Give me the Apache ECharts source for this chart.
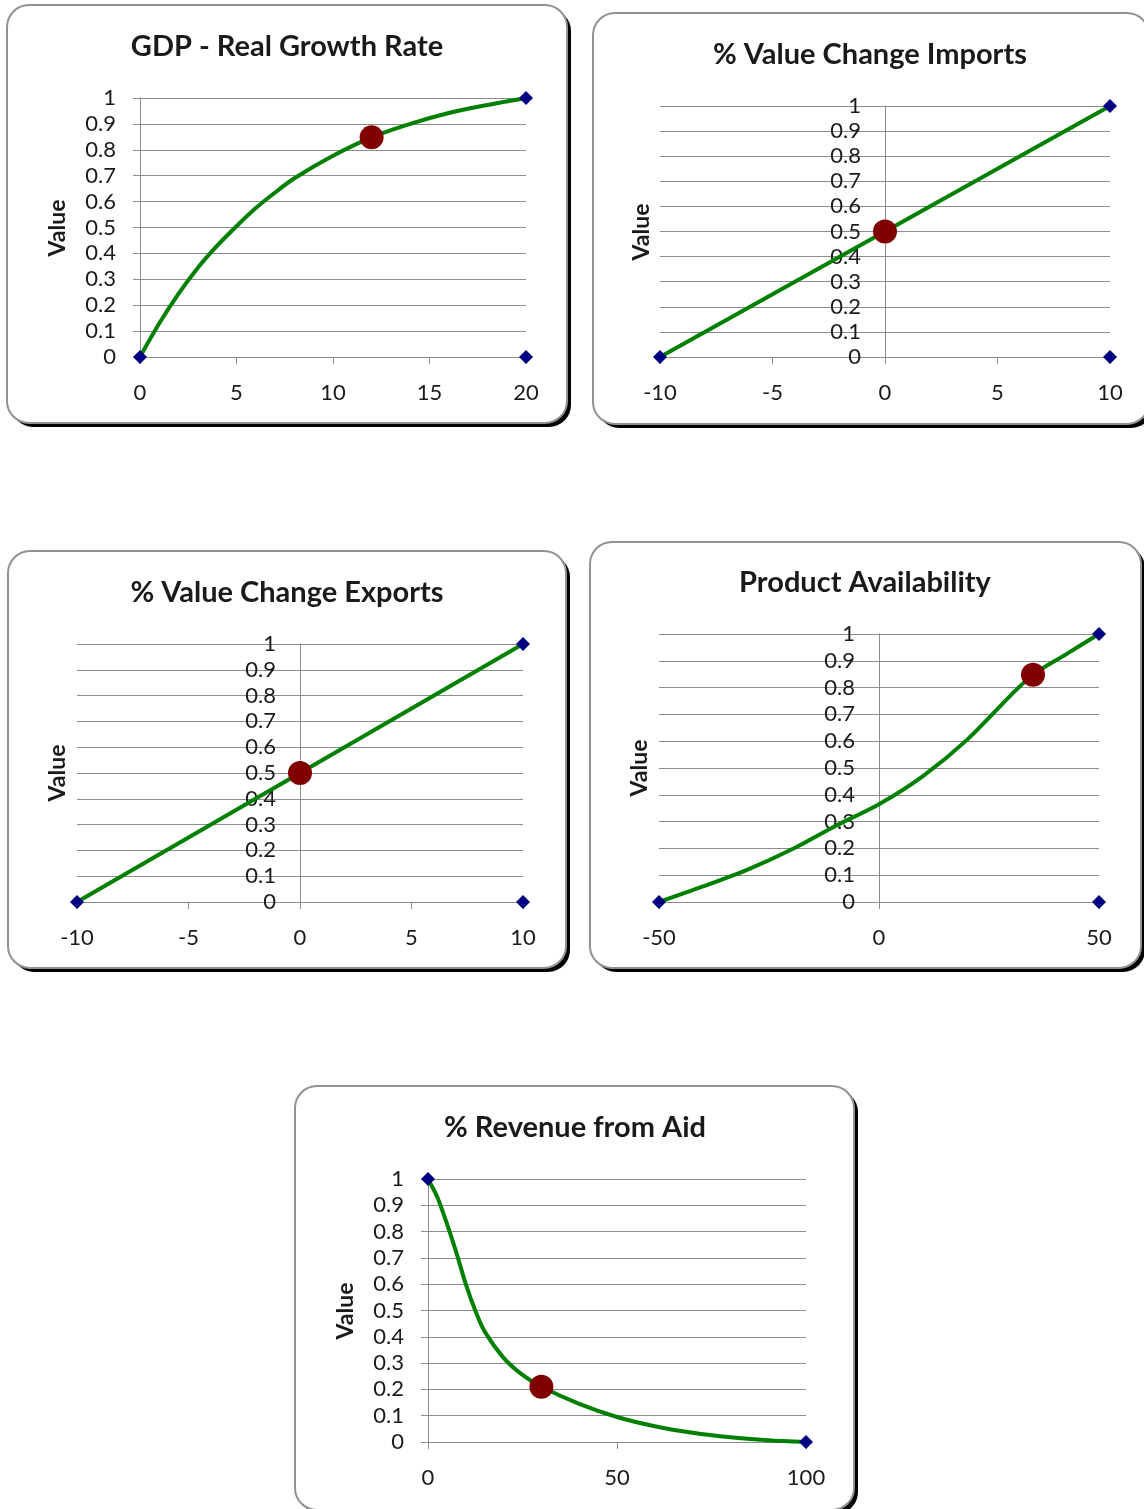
<!DOCTYPE html>
<html><head><meta charset="utf-8">
<script src="https://cdn.jsdelivr.net/npm/echarts@6/dist/echarts.min.js"></script>
<style>html,body{margin:0;padding:0;background:#fff}#c{width:1144px;height:1509px}</style>
</head><body><div id="c"></div>
<script>
// ---- data ----
const titles = ['GDP - Real Growth Rate', '% Value Change Imports', '% Value Change Exports', 'Product Availability', '% Revenue from Aid'];
const yAxisName = 'Value';
const xMins = [0, -10, -10, -50, 0];
const xMaxs = [20, 10, 10, 50, 100];
const xSteps = [5, 5, 5, 50, 50];
const yMin = 0, yMax = 1, yStep = 0.1;

const gdpCurve = [[0,0],[1,0.13],[2,0.245],[3,0.345],[4,0.43],[5,0.505],[6,0.575],[7,0.635],[8,0.69],[10,0.777],[12,0.848],[14,0.9],[16,0.942],[18,0.973],[20,1]];
const gdpPoint = [[12,0.848]];
const gdpEnds = [[0,0],[20,0],[20,1]];

const importsCurve = [[-10,0],[0,0.5],[10,1]];
const importsPoint = [[0,0.5]];
const importsEnds = [[-10,0],[10,0],[10,1]];

const exportsCurve = [[-10,0],[0,0.5],[10,1]];
const exportsPoint = [[0,0.5]];
const exportsEnds = [[-10,0],[10,0],[10,1]];

const availCurve = [[-50,0],[-40,0.058],[-30,0.12],[-20,0.195],[-10,0.283],[0,0.365],[10,0.47],[20,0.605],[30,0.772],[35,0.848],[42.5,0.924],[50,1]];
const availPoint = [[35,0.848]];
const availEnds = [[-50,0],[50,0],[50,1]];

const aidCurve = [[0,1],[2.5,0.93],[5,0.83],[7.5,0.72],[10,0.6],[12.5,0.5],[15,0.42],[20,0.32],[25,0.255],[30,0.21],[40,0.145],[50,0.095],[60,0.06],[70,0.035],[80,0.018],[90,0.007],[100,0]];
const aidPoint = [[30,0.21]];
const aidEnds = [[0,1],[100,0]];

const curves = [gdpCurve, importsCurve, exportsCurve, availCurve, aidCurve];
const points = [gdpPoint, importsPoint, exportsPoint, availPoint, aidPoint];
const ends = [gdpEnds, importsEnds, exportsEnds, availEnds, aidEnds];
const smoothness = [0.3, 0, 0, 0.3, 0.3];

// ---- layout ----
const panels = [
  {x:7, y:5, w:560, h:418},
  {x:593, y:13, w:556, h:411},
  {x:8, y:551, w:558, h:417},
  {x:590, y:542, w:551, h:426},
  {x:295, y:1086, w:559, h:424}
];
const grids = [
  {left:140, top:98, width:386, height:259},
  {left:660, top:106, width:450, height:251},
  {left:77, top:644, width:446, height:258},
  {left:659, top:634, width:440, height:268},
  {left:428, top:1179, width:378, height:263}
];
const titlePos = [[287,47],[870,55],[287,593],[865,583],[575,1128]];
const namePos = [[58,228],[642,232],[58,773],[640,768],[346,1311]];

const FONT = 'Lato, "Open Sans", sans-serif';
const GRAY = '#8c8c8c';
const TXT = '#1a1a1a';

const graphic = [];
panels.forEach(p => {
  graphic.push({type:'rect', z:-10, shape:{x:p.x+4, y:p.y+4, width:p.w, height:p.h, r:22}, style:{fill:'#000'}});
  graphic.push({type:'rect', z:-9, shape:{x:p.x, y:p.y, width:p.w, height:p.h, r:22}, style:{fill:'#fff', stroke:'#929292', lineWidth:2}});
});
namePos.forEach(n => {
  graphic.push({type:'text', z:5, x:n[0], y:n[1], rotation:Math.PI/2,
    style:{text:yAxisName, fill:TXT, font:'bold 23px ' + FONT, textAlign:'center', textVerticalAlign:'middle'}});
});

const title = titles.map((t,i) => ({
  text:t, left:titlePos[i][0], top:titlePos[i][1], textAlign:'center', textVerticalAlign:'middle', padding:0,
  textStyle:{fontFamily:FONT, fontWeight:'bold', fontSize:29, color:TXT}
}));

const xAxis = grids.map((g,i) => ({
  type:'value', gridIndex:i, min:xMins[i], max:xMaxs[i], interval:xSteps[i],
  axisLine:{show:true, onZero:true, lineStyle:{color:GRAY, width:1}},
  axisTick:{show:true, length:7, lineStyle:{color:GRAY}},
  splitLine:{show:false},
  axisLabel:{margin:25, fontFamily:FONT, fontSize:22, lineHeight:22, color:TXT}
}));
const yAxis = grids.map((g,i) => ({
  type:'value', gridIndex:i, min:yMin, max:yMax, interval:yStep,
  // place the vertical axis where x = 0
  offset: -((0 - xMins[i]) / (xMaxs[i] - xMins[i])) * g.width,
  axisLine:{show:true, onZero:false, lineStyle:{color:GRAY, width:1}},
  axisTick:{show:true, length:7, lineStyle:{color:GRAY}},
  splitLine:{show:true, lineStyle:{color:GRAY, width:1}},
  axisLabel:{margin:24, fontFamily:FONT, fontSize:22, lineHeight:22, color:TXT}
}));

const series = [];
for (let i = 0; i < 5; i++) {
  series.push({type:'line', xAxisIndex:i, yAxisIndex:i, data:curves[i], smooth:smoothness[i],
    showSymbol:false, lineStyle:{color:'#008000', width:4}, z:3, silent:true});
  series.push({type:'scatter', xAxisIndex:i, yAxisIndex:i, data:ends[i], symbol:'diamond', symbolSize:14,
    itemStyle:{color:'#000080', opacity:1}, z:4, silent:true});
  series.push({type:'scatter', xAxisIndex:i, yAxisIndex:i, data:points[i], symbol:'circle', symbolSize:24,
    itemStyle:{color:'#800000', opacity:1}, z:5, silent:true});
}

const chart = echarts.init(document.getElementById('c'), null, {renderer:'canvas'});
chart.setOption({
  animation:false,
  backgroundColor:'#fff',
  title, graphic,
  grid: grids.map(g => Object.assign({containLabel:false}, g)),
  xAxis, yAxis, series
});
</script></body></html>
